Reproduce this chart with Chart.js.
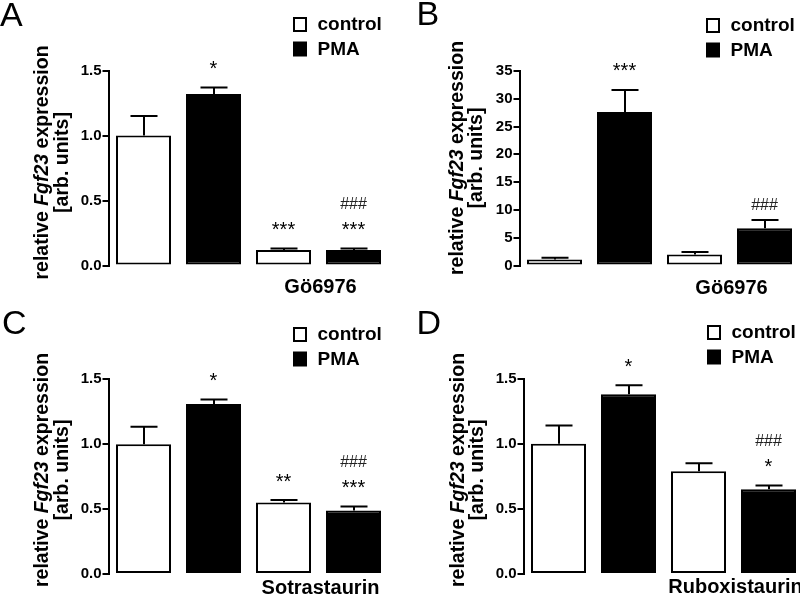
<!DOCTYPE html>
<html>
<head>
<meta charset="utf-8">
<script src="https://cdn.jsdelivr.net/npm/chart.js@4.4.0/dist/chart.umd.min.js"></script>
<style>
  html, body { margin: 0; padding: 0; background: #fff; }
  #wrap { position: relative; width: 800px; height: 604px; overflow: hidden; }
  #wrap canvas { position: absolute; }
</style>
</head>
<body>
<div id="wrap">
  <canvas id="chartA" width="400" height="302" style="left:0;top:0"></canvas>
  <canvas id="chartB" width="400" height="302" style="left:400px;top:0"></canvas>
  <canvas id="chartC" width="400" height="302" style="left:0;top:302px"></canvas>
  <canvas id="chartD" width="400" height="302" style="left:404px;top:302px"></canvas>
</div>
<script>
// Fgf23 expression, four panels
const CATEGORIES = ['control', 'PMA', 'control + inhibitor', 'PMA + inhibitor'];
const SERIES = ['control', 'PMA'];

// A: Gö6976
const controlA = [1.00, null, 0.12, null];
const pmaA = [null, 1.32, null, 0.12];
const errA = [0.15, 0.05, 0.01, 0.01];
const marksA = [[], ['*'], ['***'], ['***', '###']];
const ticksA = [0, 0.5, 1.0, 1.5];

// B: Gö6976
const controlB = [1.1, null, 2.0, null];
const pmaB = [null, 27.6, null, 6.7];
const errB = [0.3, 4.0, 0.45, 1.5];
const marksB = [[], ['***'], [], ['###']];
const ticksB = [0, 5, 10, 15, 20, 25, 30, 35];

// C: Sotrastaurin
const controlC = [1.00, null, 0.55, null];
const pmaC = [null, 1.31, null, 0.49];
const errC = [0.135, 0.035, 0.02, 0.03];
const marksC = [[], ['*'], ['**'], ['***', '###']];
const ticksC = [0, 0.5, 1.0, 1.5];

// D: Ruboxistaurin
const controlD = [1.00, null, 0.79, null];
const pmaD = [null, 1.38, null, 0.65];
const errD = [0.14, 0.07, 0.06, 0.03];
const marksD = [[], ['*'], [], ['*', '###']];
const ticksD = [0, 0.5, 1.0, 1.5];

const FONT = '"Liberation Sans", Arial, Helvetica, sans-serif';
const W = 400, H = 302;

function decorPlugin(p) {
  return {
    id: 'decor' + p.letter,
    afterDatasetsDraw(chart) {
      const ctx = chart.ctx;
      const y = chart.scales.y;
      const x = chart.scales.x;
      ctx.save();
      ctx.strokeStyle = '#000';
      ctx.fillStyle = '#000';
      ctx.lineWidth = 2;

      // error bars (upper only)
      const tops = [];
      chart.data.datasets.forEach((ds, di) => {
        const meta = chart.getDatasetMeta(di);
        meta.data.forEach((bar, i) => {
          const v = ds.data[i];
          if (v === null || v === undefined) return;
          const top = y.getPixelForValue(v + p.err[i]);
          tops[i] = top;
          const cx = Math.round(bar.x);
          ctx.beginPath();
          ctx.moveTo(cx, bar.y);
          ctx.lineTo(cx, top);
          ctx.moveTo(cx - 13.5, top);
          ctx.lineTo(cx + 13.5, top);
          ctx.stroke();
        });
      });

      // significance marks
      ctx.textAlign = 'center';
      ctx.textBaseline = 'alphabetic';
      p.marks.forEach((lines, i) => {
        if (!lines.length) return;
        const cx = x.getPixelForValue(i);
        let cy = tops[i] - 24;
        lines.forEach((t, k) => {
          if (t[0] === '#') {
            if (k === 0) cy = tops[i] - 16;
            ctx.font = '16px ' + FONT;
            ctx.fillStyle = '#222';
            ctx.fillText(t, cx, cy + 5.6);
          } else {
            ctx.font = '20px ' + FONT;
            ctx.fillStyle = '#000';
            ctx.fillText(t, cx, cy + 11.5);
          }
          cy -= 21.5;
        });
      });

      // inhibitor label under last two bars
      ctx.fillStyle = '#000';
      ctx.font = 'bold 20px ' + FONT;
      const mid = (x.getPixelForValue(2) + x.getPixelForValue(3)) / 2 + 2;
      ctx.fillText(p.inhibitor, mid, p.labelY);

      // panel letter
      ctx.textAlign = 'left';
      ctx.font = '34px ' + FONT;
      ctx.fillText(p.letter, p.letterPos[0], p.letterPos[1]);

      // legend
      ctx.font = 'bold 19px ' + FONT;
      ctx.textBaseline = 'middle';
      SERIES.forEach((name, k) => {
        const lx = p.legend[0], ly = p.legend[1] + k * 24.5;
        if (k === 0) {
          ctx.fillStyle = '#fff';
          ctx.fillRect(lx, ly, 14, 15);
          ctx.strokeRect(lx + 1, ly + 1, 12, 13);
        } else {
          ctx.fillStyle = '#000';
          ctx.fillRect(lx, ly, 14, 15);
        }
        ctx.fillStyle = '#000';
        ctx.fillText(name, lx + 24.5, ly + 8);
      });

      // y axis title, two lines, Fgf23 in italic
      ctx.translate(p.title[0], p.title[2]);
      ctx.rotate(-Math.PI / 2);
      const parts = [['relative ', 'bold'], ['Fgf23', 'italic bold'], [' expression', 'bold']];
      let total = 0;
      parts.forEach(pt => { ctx.font = pt[1] + ' 19.5px ' + FONT; total += ctx.measureText(pt[0]).width; });
      let tx = -total / 2;
      parts.forEach(pt => {
        ctx.font = pt[1] + ' 19.5px ' + FONT;
        ctx.fillText(pt[0], tx, 0);
        tx += ctx.measureText(pt[0]).width;
      });
      ctx.textAlign = 'center';
      ctx.font = 'bold 19.5px ' + FONT;
      ctx.fillText('[arb. units]', 0, p.title[1] - p.title[0]);
      ctx.restore();
    }
  };
}

function makePanel(id, p) {
  const a = p.area;
  return new Chart(document.getElementById(id), {
    type: 'bar',
    data: {
      labels: CATEGORIES,
      datasets: [
        { label: SERIES[0], data: p.control, backgroundColor: '#fff', borderColor: '#000' },
        { label: SERIES[1], data: p.pma, backgroundColor: '#000', borderColor: '#000' }
      ]
    },
    options: {
      responsive: false,
      animation: false,
      layout: { padding: { left: 0, top: a.top, right: W - a.right, bottom: H - a.bottom } },
      datasets: {
        bar: {
          grouped: false,
          borderWidth: 2,
          borderSkipped: false,
          categoryPercentage: 1,
          barPercentage: 55 / 70
        }
      },
      plugins: { legend: { display: false }, tooltip: { enabled: false } },
      scales: {
        x: { display: false },
        y: {
          min: p.ticks[0],
          max: p.ticks[p.ticks.length - 1],
          afterFit(scale) { scale.width = a.left; },
          afterBuildTicks(scale) { scale.ticks = p.ticks.map(v => ({ value: v })); },
          ticks: {
            autoSkip: false,
            padding: 1,
            color: '#000',
            font: { family: FONT, size: 15, weight: 'bold' },
            callback: v => p.decimals ? Number(v).toFixed(1) : String(v)
          },
          grid: { drawOnChartArea: false, drawTicks: true, tickLength: 6, color: '#000', lineWidth: 2 },
          border: { display: true, color: '#000', width: 2 }
        }
      }
    },
    plugins: [decorPlugin(p)]
  });
}

makePanel('chartA', {
  letter: 'A', control: controlA, pma: pmaA, err: errA, marks: marksA, ticks: ticksA, decimals: true,
  inhibitor: 'Gö6976',
  area: { left: 108.5, right: 388.5, top: 70.5, bottom: 265.5 },
  letterPos: [0, 26], legend: [293, 17], title: [42.5, 62.5, 162.5], labelY: 293
});
makePanel('chartB', {
  letter: 'B', control: controlB, pma: pmaB, err: errB, marks: marksB, ticks: ticksB, decimals: false,
  inhibitor: 'Gö6976',
  area: { left: 119.5, right: 399.5, top: 71, bottom: 265.5 },
  letterPos: [16.5, 25], legend: [306, 18], title: [58, 77, 158], labelY: 294
});
makePanel('chartC', {
  letter: 'C', control: controlC, pma: pmaC, err: errC, marks: marksC, ticks: ticksC, decimals: true,
  inhibitor: 'Sotrastaurin',
  area: { left: 108.5, right: 388.5, top: 77.3, bottom: 272 },
  letterPos: [2, 32], legend: [293, 25], title: [42.5, 62.5, 168], labelY: 292
});
makePanel('chartD', {
  letter: 'D', control: controlD, pma: pmaD, err: errD, marks: marksD, ticks: ticksD, decimals: true,
  inhibitor: 'Ruboxistaurin',
  area: { left: 119.5, right: 399.5, top: 76.7, bottom: 272 },
  letterPos: [12.5, 32], legend: [303, 23], title: [55, 74, 168], labelY: 291
});
</script>
</body>
</html>
